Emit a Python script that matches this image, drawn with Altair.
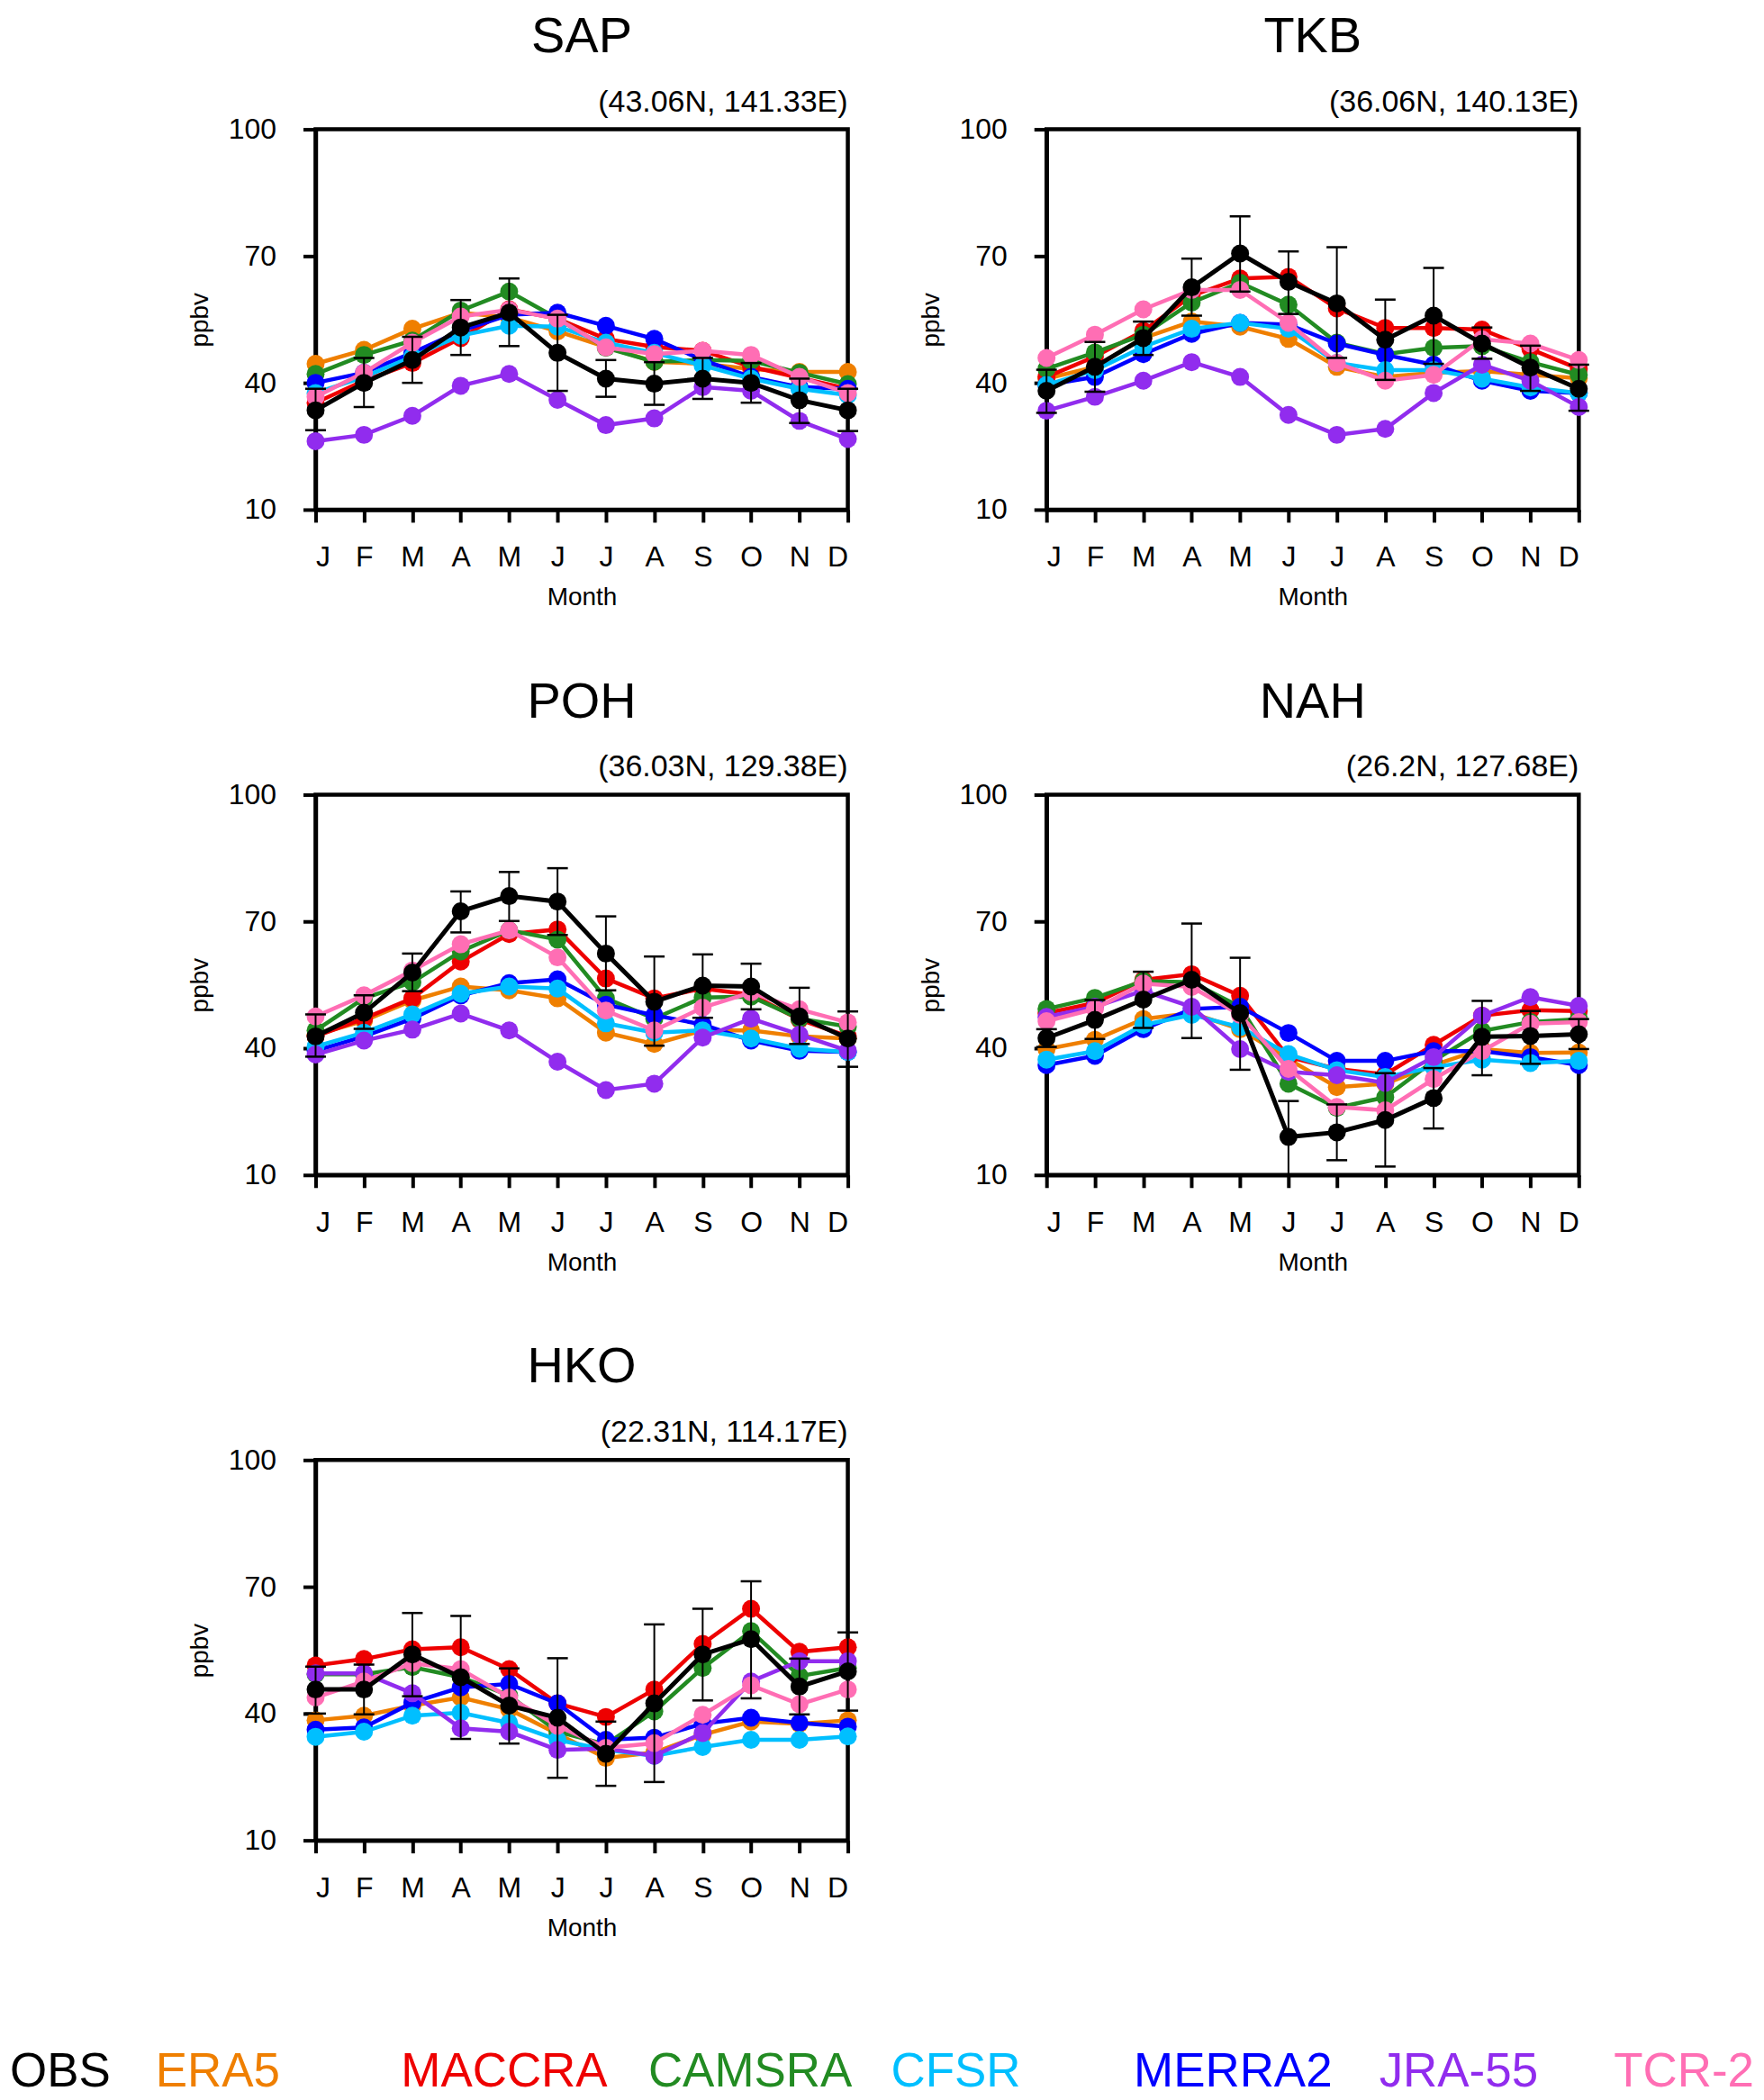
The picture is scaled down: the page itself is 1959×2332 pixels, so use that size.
import altair as alt
import pandas as pd

# ---------------- data ----------------
MONTHS = ["J", "F", "M", "A", "M", "J", "J", "A", "S", "O", "N", "D"]
MODELS = ["ERA5", "MACCRA", "CAMSRA", "MERRA2", "CFSR", "JRA-55", "TCR-2"]  # draw order
LEGEND = ["OBS", "ERA5", "MACCRA", "CAMSRA", "CFSR", "MERRA2", "JRA-55", "TCR-2"]
COLORS = {
    "OBS": "#000000", "ERA5": "#EF7F00", "MACCRA": "#EE0000", "CAMSRA": "#228B22",
    "CFSR": "#00BFFF", "MERRA2": "#0000FF", "JRA-55": "#912CEE", "TCR-2": "#FF6EB4",
}
STATIONS = ["SAP", "TKB", "POH", "NAH", "HKO"]
COORDS = ["(43.06N, 141.33E)", "(36.06N, 140.13E)", "(36.03N, 129.38E)",
          "(26.2N, 127.68E)", "(22.31N, 114.17E)"]

# SAP
sap_obs = [33.5, 40.0, 45.4, 53.1, 56.6, 47.1, 41.0, 39.8, 41.0, 40.0, 35.9, 33.5]
sap_lo = [28.8, 34.3, 40.0, 46.6, 48.7, 38.1, 36.7, 34.8, 36.2, 35.3, 30.5, 28.6]
sap_hi = [38.6, 45.9, 50.9, 59.6, 64.7, 56.1, 45.4, 44.9, 45.9, 44.7, 41.0, 38.6]
sap_era5 = [44.5, 47.8, 52.8, 56.6, 55.5, 52.2, 48.5, 45.0, 44.5, 43.3, 42.6, 42.6]
sap_maccra = [35.3, 40.5, 44.7, 50.6, 57.4, 55.2, 50.4, 48.5, 47.6, 43.8, 41.2, 38.6]
sap_camsra = [42.1, 46.6, 50.0, 57.1, 61.6, 55.2, 48.3, 45.0, 45.4, 45.2, 42.4, 39.7]
sap_cfsr = [37.6, 41.4, 46.2, 51.2, 53.5, 53.3, 49.5, 47.1, 44.1, 41.0, 38.6, 37.1]
sap_merra2 = [40.0, 42.4, 47.1, 52.3, 56.1, 56.6, 53.5, 50.4, 45.4, 41.4, 39.0, 38.6]
sap_jra55 = [26.2, 27.7, 32.2, 39.3, 42.1, 36.0, 30.0, 31.6, 39.0, 38.1, 31.0, 26.7]
sap_tcr2 = [36.7, 42.4, 49.5, 55.7, 57.3, 55.2, 48.4, 46.8, 47.6, 46.6, 41.4, 37.6]

# TKB
tkb_obs = [38.1, 43.8, 50.6, 62.6, 70.6, 63.9, 58.8, 50.2, 55.9, 49.3, 43.6, 38.6]
tkb_lo = [32.9, 37.9, 46.6, 55.9, 61.6, 56.3, 45.9, 40.7, 44.5, 45.7, 38.1, 33.4]
tkb_hi = [43.1, 49.7, 54.5, 69.4, 79.4, 71.1, 72.1, 59.7, 67.2, 53.1, 48.8, 44.3]
tkb_era5 = [41.0, 43.8, 50.6, 54.5, 53.3, 50.4, 43.8, 41.4, 42.4, 42.8, 41.9, 41.1]
tkb_maccra = [41.4, 46.2, 52.3, 60.6, 64.7, 65.1, 57.6, 53.0, 53.0, 52.6, 48.0, 43.3]
tkb_camsra = [43.3, 47.2, 51.4, 59.0, 63.7, 58.5, 49.5, 46.8, 48.3, 48.7, 44.9, 41.9]
tkb_cfsr = [39.5, 43.0, 48.5, 52.8, 54.2, 52.8, 44.7, 43.0, 43.0, 41.0, 38.9, 37.6]
tkb_merra2 = [39.5, 41.4, 46.8, 51.6, 54.2, 53.8, 49.3, 46.6, 44.3, 40.5, 38.1, 37.6]
tkb_jra55 = [33.4, 36.7, 40.5, 44.9, 41.4, 32.4, 27.7, 29.1, 37.6, 44.3, 40.5, 34.3]
tkb_tcr2 = [45.9, 51.4, 57.4, 62.0, 62.0, 54.2, 44.7, 40.5, 41.9, 50.3, 49.3, 45.4]

# POH
poh_obs = [42.8, 48.4, 57.9, 72.4, 76.0, 74.7, 62.4, 51.0, 54.8, 54.6, 47.5, 42.3]
poh_lo = [38.0, 44.6, 53.5, 67.4, 70.1, 66.8, 53.7, 40.6, 47.2, 49.2, 41.0, 35.6]
poh_hi = [48.0, 52.5, 62.4, 77.1, 81.7, 82.6, 71.2, 61.7, 62.2, 60.0, 54.3, 48.7]
poh_era5 = [43.2, 46.5, 51.3, 54.6, 53.7, 51.8, 43.7, 41.0, 44.2, 44.2, 42.8, 42.3]
poh_maccra = [42.8, 47.0, 51.8, 60.5, 67.0, 68.1, 56.5, 51.8, 54.1, 52.7, 46.8, 42.8]
poh_camsra = [44.2, 51.8, 55.6, 62.9, 67.9, 65.7, 51.8, 47.0, 52.0, 52.2, 47.0, 45.1]
poh_cfsr = [40.4, 43.7, 48.0, 52.9, 54.6, 54.1, 45.9, 43.7, 44.2, 42.3, 39.9, 39.1]
poh_merra2 = [39.4, 42.8, 47.0, 52.5, 55.4, 56.3, 50.3, 47.8, 45.6, 41.8, 39.4, 39.1]
poh_jra55 = [38.5, 41.8, 44.4, 48.2, 44.2, 36.8, 30.1, 31.6, 42.5, 47.0, 43.2, 39.4]
poh_tcr2 = [47.5, 52.5, 58.4, 64.6, 67.9, 61.5, 48.9, 44.2, 49.6, 53.2, 49.2, 46.1]

# NAH
nah_obs = [42.4, 46.7, 51.5, 56.2, 48.3, 19.0, 20.1, 23.0, 28.2, 42.7, 42.9, 43.3]
nah_lo = [40.3, 42.2, 44.8, 42.4, 34.9, 10.0, 13.5, 12.0, 21.0, 33.6, 36.3, 39.8]
nah_hi = [44.5, 51.4, 58.1, 69.5, 61.4, 27.5, 26.7, 34.1, 35.3, 51.2, 48.8, 46.9]
nah_era5 = [39.8, 42.0, 46.9, 48.3, 44.5, 37.4, 30.8, 31.6, 36.0, 39.8, 38.9, 39.0]
nah_maccra = [48.3, 50.7, 56.2, 57.5, 52.4, 37.9, 35.1, 33.8, 40.8, 47.7, 49.0, 48.8]
nah_camsra = [49.3, 51.9, 55.9, 55.6, 49.8, 31.6, 25.9, 28.4, 37.0, 44.1, 46.2, 46.9]
nah_cfsr = [37.3, 39.3, 45.5, 47.9, 45.0, 38.6, 34.8, 33.2, 35.5, 37.3, 36.5, 37.0]
nah_merra2 = [36.0, 38.2, 44.5, 49.3, 49.8, 43.6, 37.0, 37.0, 39.3, 39.3, 37.9, 36.0]
nah_jra55 = [47.4, 49.8, 53.6, 49.8, 39.8, 34.4, 33.6, 31.8, 37.9, 47.7, 52.1, 50.0]
nah_tcr2 = [46.4, 49.3, 55.3, 54.5, 47.9, 35.1, 26.1, 25.3, 32.7, 39.3, 45.8, 46.2]

# HKO
hko_obs = [45.7, 45.7, 54.0, 48.6, 41.9, 39.0, 30.5, 42.4, 54.0, 57.6, 46.4, 50.0]
hko_lo = [40.0, 39.8, 44.1, 34.0, 32.9, 24.8, 22.9, 23.8, 43.1, 43.6, 39.8, 40.7]
hko_hi = [51.1, 51.6, 63.8, 63.1, 50.7, 53.1, 38.1, 61.1, 64.8, 71.3, 53.0, 59.2]
hko_era5 = [38.4, 39.5, 41.9, 43.8, 41.0, 35.2, 29.5, 30.8, 35.0, 38.1, 37.6, 38.4]
hko_maccra = [51.4, 52.9, 55.2, 55.7, 50.5, 42.4, 39.2, 45.7, 56.5, 64.8, 54.6, 55.7]
hko_camsra = [49.3, 49.3, 51.0, 48.6, 44.3, 35.7, 32.7, 40.5, 50.8, 59.5, 48.9, 50.8]
hko_cfsr = [34.5, 35.7, 39.5, 40.2, 37.8, 33.8, 31.4, 30.0, 32.1, 33.8, 33.8, 34.6]
hko_merra2 = [36.2, 36.7, 42.6, 46.2, 47.0, 42.4, 33.8, 34.3, 37.6, 39.0, 37.8, 36.9]
hko_jra55 = [49.5, 49.5, 44.8, 36.5, 35.7, 31.4, 31.7, 30.0, 35.4, 47.6, 52.4, 52.4]
hko_tcr2 = [43.8, 47.6, 51.9, 50.5, 43.8, 37.1, 31.9, 33.0, 39.7, 46.7, 42.2, 45.7]

DATA = {
    "SAP": dict(OBS=sap_obs, lo=sap_lo, hi=sap_hi, ERA5=sap_era5, MACCRA=sap_maccra,
                CAMSRA=sap_camsra, CFSR=sap_cfsr, MERRA2=sap_merra2, **{"JRA-55": sap_jra55, "TCR-2": sap_tcr2}),
    "TKB": dict(OBS=tkb_obs, lo=tkb_lo, hi=tkb_hi, ERA5=tkb_era5, MACCRA=tkb_maccra,
                CAMSRA=tkb_camsra, CFSR=tkb_cfsr, MERRA2=tkb_merra2, **{"JRA-55": tkb_jra55, "TCR-2": tkb_tcr2}),
    "POH": dict(OBS=poh_obs, lo=poh_lo, hi=poh_hi, ERA5=poh_era5, MACCRA=poh_maccra,
                CAMSRA=poh_camsra, CFSR=poh_cfsr, MERRA2=poh_merra2, **{"JRA-55": poh_jra55, "TCR-2": poh_tcr2}),
    "NAH": dict(OBS=nah_obs, lo=nah_lo, hi=nah_hi, ERA5=nah_era5, MACCRA=nah_maccra,
                CAMSRA=nah_camsra, CFSR=nah_cfsr, MERRA2=nah_merra2, **{"JRA-55": nah_jra55, "TCR-2": nah_tcr2}),
    "HKO": dict(OBS=hko_obs, lo=hko_lo, hi=hko_hi, ERA5=hko_era5, MACCRA=hko_maccra,
                CAMSRA=hko_camsra, CFSR=hko_cfsr, MERRA2=hko_merra2, **{"JRA-55": hko_jra55, "TCR-2": hko_tcr2}),
}

# ---------------- style ----------------
W, H = 592, 423
FONT = "Liberation Sans"
LEGEND_X = [-340, -178, 95, 370, 640, 910, 1183, 1444]
LEGEND_Y = 697
LEGEND_SIZE = 53
TICK = 14

label_expr = "[" + ",".join("'%s'" % m for m in MONTHS) + "][datum.value - 1]"


def xenc(field="month"):
    return alt.X(
        f"{field}:Q",
        scale=alt.Scale(domain=[1, 12], nice=False, zero=False),
        axis=alt.Axis(values=list(range(1, 13)), labelExpr=label_expr, title="Month",
                      grid=False, tickSize=TICK, tickWidth=4, domainWidth=4.5,
                      labelFontSize=32, labelPadding=24, titleFontSize=28,
                      titlePadding=15, titleFontWeight="normal"),
    )


def yenc(field="value"):
    return alt.Y(
        f"{field}:Q",
        scale=alt.Scale(domain=[10, 100], nice=False, zero=False),
        axis=alt.Axis(values=[10, 40, 70, 100], title="ppbv", grid=False,
                      tickSize=TICK, tickWidth=4, domainWidth=4.5,
                      labelFontSize=32, labelPadding=30, titleFontSize=28,
                      titlePadding=17, titleFontWeight="normal"),
    )


def series_df(vals):
    return pd.DataFrame({"month": list(range(1, 13)), "value": vals})


def panel(idx, with_legend=False):
    st = STATIONS[idx]
    d = DATA[st]
    layers = []
    for m in MODELS:
        df = series_df(d[m])
        c = COLORS[m]
        layers.append(alt.Chart(df).mark_line(color=c, strokeWidth=4.5).encode(x=xenc(), y=yenc()))
        layers.append(alt.Chart(df).mark_circle(color=c, size=400, opacity=1).encode(x=xenc(), y=yenc()))
    edf = pd.DataFrame({"month": list(range(1, 13)), "value": d["OBS"], "lo": d["lo"], "hi": d["hi"]})
    layers.append(alt.Chart(edf).mark_rule(color="black", strokeWidth=2).encode(
        x=xenc(), y=yenc("lo"), y2="hi:Q"))
    layers.append(alt.Chart(edf).mark_tick(color="black", orient="horizontal", size=23,
                                           thickness=2.5, opacity=1).encode(x=xenc(), y=yenc("lo")))
    layers.append(alt.Chart(edf).mark_tick(color="black", orient="horizontal", size=23,
                                           thickness=2.5, opacity=1).encode(x=xenc(), y=yenc("hi")))
    odf = series_df(d["OBS"])
    layers.append(alt.Chart(odf).mark_line(color="black", strokeWidth=5).encode(x=xenc(), y=yenc()))
    layers.append(alt.Chart(odf).mark_circle(color="black", size=400, opacity=1).encode(x=xenc(), y=yenc()))

    tdf = pd.DataFrame({"t": [st]})
    layers.append(alt.Chart(tdf).mark_text(fontSize=56, align="center", baseline="alphabetic",
                                           color="black", font=FONT).encode(
        x=alt.value(W / 2), y=alt.value(-86), text="t:N"))
    cdf = pd.DataFrame({"t": [COORDS[idx]]})
    layers.append(alt.Chart(cdf).mark_text(fontSize=34, align="right", baseline="alphabetic",
                                           color="black", font=FONT).encode(
        x=alt.value(W), y=alt.value(-20), text="t:N"))

    if with_legend:
        for name, lx in zip(LEGEND, LEGEND_X):
            ldf = pd.DataFrame({"t": [name]})
            layers.append(alt.Chart(ldf).mark_text(fontSize=LEGEND_SIZE, align="left",
                                                   baseline="alphabetic",
                                                   color=COLORS[name], font=FONT).encode(
                x=alt.value(lx), y=alt.value(LEGEND_Y), text="t:N"))

    return alt.layer(*layers).properties(width=W, height=H)


panels = [panel(i, with_legend=(i == 4)) for i in range(5)]

chart = alt.concat(
    *panels, columns=2, bounds="flush", spacing={"row": 317, "column": 221}
).properties(
    padding={"top": 0, "left": 0, "right": 0, "bottom": -4}
).configure(font=FONT).configure_view(
    stroke="black", strokeWidth=4.5
).configure_axis(
    domainColor="black", tickColor="black", labelColor="black", titleColor="black",
    labelFont=FONT, titleFont=FONT
)

chart.save("out.html", embed_options={"renderer": "svg", "actions": False})
